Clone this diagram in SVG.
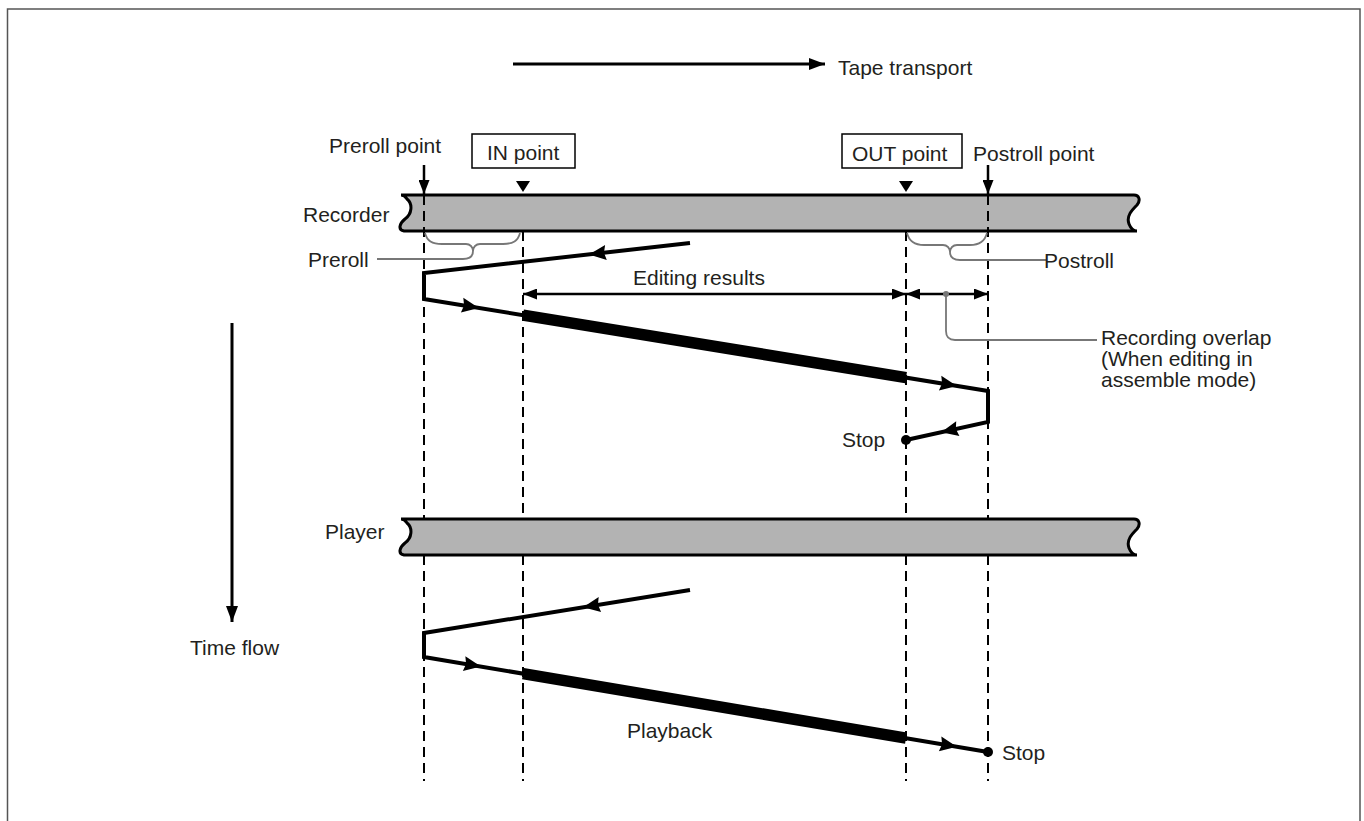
<svg xmlns="http://www.w3.org/2000/svg" width="1364" height="821" viewBox="0 0 1364 821">
<style>
text{font-family:"Liberation Sans",Arial,Helvetica,sans-serif;font-size:21px;fill:#231f20}
.dash{stroke:#000;stroke-width:2;stroke-dasharray:10 6;fill:none}
.thin{stroke:#000;stroke-width:4;fill:none;stroke-linejoin:miter}
.thick{stroke:#000;stroke-width:11.5;fill:none;stroke-linecap:butt}
.gray{stroke:#777;stroke-width:1.8;fill:none}
.ln{stroke:#000;fill:none}
.tape{fill:#b3b3b3;stroke:#000;stroke-width:3}
</style>
<defs>
<marker id="arr" viewBox="0 0 16 12" refX="16" refY="6" markerWidth="16" markerHeight="12" markerUnits="userSpaceOnUse" orient="auto-start-reverse"><path d="M0,0 L16,6 L0,12 Z" fill="#000"/></marker>
<marker id="arrS" viewBox="0 0 14 11" refX="14" refY="5.5" markerWidth="14" markerHeight="11" markerUnits="userSpaceOnUse" orient="auto-start-reverse"><path d="M0,0 L14,5.5 L0,11 Z" fill="#000"/></marker>
<path id="ah" d="M9,0 L-8,-7.5 L-6,0 L-8,7.5 Z" fill="#000"/>
<path id="tapeShape" d="M401,195 H1134 C1139,195 1141,200 1137,205 C1132,210 1126,216 1129,224 C1131,229 1134,231 1137,231 H404 C398,230 399,224 405,219 C412,214 413,204 407,199 C405,196 403,195 401,195 Z"/>
</defs>
<rect width="1364" height="821" fill="#fff"/>
<path d="M7.5,821 V9 H1360 V821" fill="none" stroke="#555" stroke-width="1.5"/>

<g id="tape-transport">
<line x1="513" y1="64" x2="825" y2="64" class="ln" stroke-width="3" marker-end="url(#arr)"/>
<text x="838" y="75">Tape transport</text>
</g>

<g id="recorder-tape">
<use href="#tapeShape" class="tape"/>
<text x="303" y="222">Recorder</text>
</g>
<g id="player-tape">
<use href="#tapeShape" class="tape" transform="translate(0,324)"/>
<text x="325" y="539">Player</text>
</g>

<g id="guides">
<path class="dash" d="M424,195 V519 M424,555 V781 M523,231 V519 M523,555 V781 M906,231 V519 M906,555 V781 M988,195 V519 M988,555 V781"/>
</g>

<g id="preroll-point">
<text x="329" y="153">Preroll point</text>
<line x1="424" y1="165" x2="424" y2="194" class="ln" stroke-width="2.5" marker-end="url(#arrS)"/>
</g>
<g id="in-point">
<rect x="472" y="134" width="103" height="34" fill="#fff" stroke="#000" stroke-width="1.5"/>
<text x="487" y="160">IN point</text>
<path d="M516,181 L530,181 L523,192 Z" fill="#000"/>
</g>
<g id="out-point">
<rect x="842" y="134" width="120" height="34" fill="#fff" stroke="#000" stroke-width="1.5"/>
<text x="852" y="161">OUT point</text>
<path d="M899,181 L913,181 L906,192 Z" fill="#000"/>
</g>
<g id="postroll-point">
<text x="973" y="161">Postroll point</text>
<line x1="988" y1="165" x2="988" y2="194" class="ln" stroke-width="2.5" marker-end="url(#arrS)"/>
</g>

<g id="preroll">
<path class="gray" d="M425,233 C427,241 432,244 442,244 H466 C470,244 473,247 473,251 M520,233 C518,241 513,244 503,244 H480 C476,244 473,247 473,251 C473,256 470,259 463,259 H377"/>
<text x="308" y="267">Preroll</text>
</g>
<g id="postroll">
<path class="gray" d="M907,233 C909,241 914,245 924,245 H943 C947,245 950,248 950,252 M987,233 C985,241 980,245 970,245 H957 C953,245 950,248 950,252 C950,257 953,260 960,260 H1046"/>
<text x="1044" y="268">Postroll</text>
</g>

<g id="editing-results">
<line x1="523" y1="294" x2="906" y2="294" class="ln" stroke-width="2.5" marker-start="url(#arrS)" marker-end="url(#arrS)"/>
<text x="633" y="285">Editing results</text>
</g>
<g id="recording-overlap">
<line x1="906" y1="294" x2="988" y2="294" class="ln" stroke-width="2.5" marker-start="url(#arrS)" marker-end="url(#arrS)"/>
<circle cx="946" cy="294" r="3" fill="#777"/>
<path class="gray" d="M946,294 V331 C946,337 949,340 955,340 H1097"/>
<text x="1101" y="345">Recording overlap</text>
<text x="1101" y="366">(When editing in</text>
<text x="1101" y="387">assemble mode)</text>
</g>

<g id="recorder-path">
<path class="thin" d="M690,243 L424,273 L424,299 L988,391 L988,422 L906,440"/>
<path class="thick" d="M523,315.1 L906,377.6"/>
<circle cx="906" cy="440" r="5" fill="#000"/>
<use href="#ah" transform="translate(598,253.4) rotate(173.6)"/>
<use href="#ah" transform="translate(470,306.5) rotate(9.26)"/>
<use href="#ah" transform="translate(948,384.5) rotate(9.26)"/>
<use href="#ah" transform="translate(950,430.3) rotate(167.6)"/>
<text x="842" y="447">Stop</text>
</g>

<g id="player-path">
<path class="thin" d="M690,590 L424,633 L424,657 L988,752"/>
<path class="thick" d="M523,673.7 L906,738.2"/>
<circle cx="988" cy="752" r="5" fill="#000"/>
<use href="#ah" transform="translate(592,605.8) rotate(170.8)"/>
<use href="#ah" transform="translate(472,665) rotate(9.56)"/>
<use href="#ah" transform="translate(948,745.3) rotate(9.56)"/>
<text x="627" y="738">Playback</text>
<text x="1002" y="760">Stop</text>
</g>

<g id="time-flow">
<line x1="232" y1="323" x2="232" y2="622" class="ln" stroke-width="3" marker-end="url(#arr)"/>
<text x="190" y="655">Time flow</text>
</g>
</svg>
